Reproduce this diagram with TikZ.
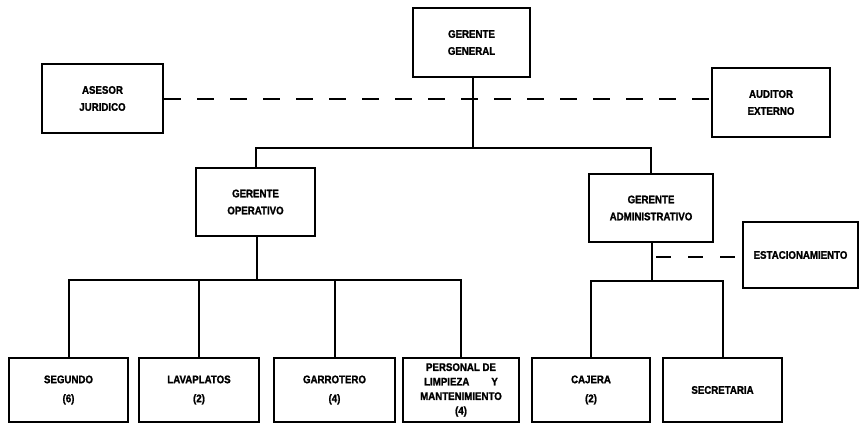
\documentclass[tikz,border=0pt]{standalone}
\usepackage{fontspec}
\setmainfont{Liberation Sans}[FakeStretch=0.88,BoldFeatures={FakeBold=1.5}]
\begin{document}
\begin{tikzpicture}[x=1pt,y=-1pt,
  box/.style={draw=black,line width=2.6pt,fill=white,inner sep=0pt,
    font=\bfseries\fontsize{11}{17}\selectfont,align=center},
  conn/.style={line width=2pt},
  dconn/.style={line width=2pt,dash pattern=on 17pt off 16pt}]
\useasboundingbox[fill=white] (0,0) rectangle (859,426);
% top level
\node[box,minimum width=117pt,minimum height=69pt] (gg) at (471.5,42.5) {GERENTE\\GENERAL};
\node[box,minimum width=121pt,minimum height=69pt] (aj) at (102.5,98.5) {ASESOR\\JURIDICO};
\node[box,minimum width=118pt,minimum height=69pt] (ae) at (771,102.5) {AUDITOR\\EXTERNO};
% managers
\node[box,minimum width=119pt,minimum height=68pt] (go) at (255.5,202) {GERENTE\\OPERATIVO};
\node[box,minimum width=124pt,minimum height=68pt] (ga) at (651,208) {GERENTE\\ADMINISTRATIVO};
\node[box,minimum width=115pt,minimum height=66pt] (est) at (800.5,255) {ESTACIONAMIENTO};
% bottom row
\tikzset{bot/.style={box,minimum height=64pt,font=\bfseries\fontsize{11}{19}\selectfont}}
\node[bot,minimum width=119pt] (seg) at (68.5,390) {SEGUNDO\\(6)};
\node[bot,minimum width=120pt] (lav) at (199,390) {LAVAPLATOS\\(2)};
\node[bot,minimum width=121pt] (gar) at (334.5,390) {GARROTERO\\(4)};
\node[bot,minimum width=116pt,font=\bfseries\fontsize{11}{14.5}\selectfont] (per) at (461,390) {PERSONAL DE\\LIMPIEZA\hspace{2em}Y\\MANTENIMIENTO\\(4)};
\node[bot,minimum width=118pt] (caj) at (591,390) {CAJERA\\(2)};
\node[bot,minimum width=119pt] (sec) at (722.5,390) {SECRETARIA};
% coordinates for buses
\coordinate (b1) at (473,148);
\coordinate (b2) at (257,280);
\coordinate (b3) at (652,281);
\coordinate (d3) at (652,257);
% connectors
\draw[dconn] (aj.east) -- (aj.east -| ae.west);
\draw[conn] (gg.south -| b1) -- (b1);
\draw[conn] (go.north) |- (b1) -| (ga.north);
\draw[conn] (go.south -| b2) -- (b2);
\draw[conn] (seg.north) |- (b2);
\draw[conn] (lav.north) -- (lav.north |- b2);
\draw[conn] (gar.north) -- (gar.north |- b2);
\draw[conn] (per.north) |- (b2);
\draw[conn] (ga.south -| b3) -- (b3);
\draw[conn] (caj.north) |- (b3) -| (sec.north);
\draw[dconn,dash pattern=on 15pt off 17pt,dash phase=-4pt] (d3) -- (d3 -| est.west);
\end{tikzpicture}
\end{document}
